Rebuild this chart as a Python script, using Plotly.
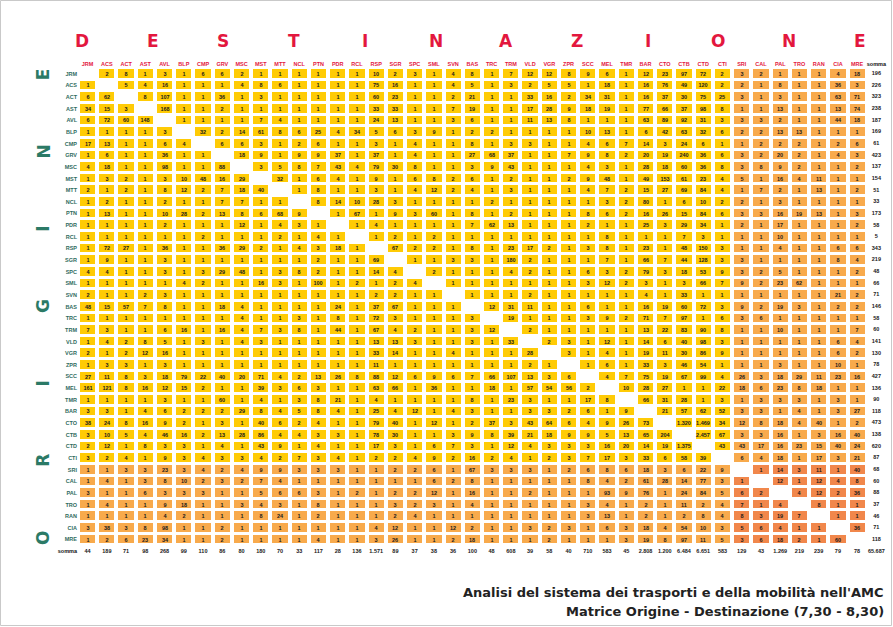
import plotly.graph_objects as go

# Zone codes (origins and destinations share the same list)
destinazioni = ["JRM", "ACS", "ACT", "AST", "AVL", "BLP", "CMP", "GRV", "MSC", "MST",
                "MTT", "NCL", "PTN", "PDR", "RCL", "RSP", "SGR", "SPC", "SML", "SVN",
                "BAS", "TRC", "TRM", "VLD", "VGR", "ZPR", "SCC", "MEL", "TMR", "BAR",
                "CTO", "CTB", "CTD", "CTI", "SRI", "CAL", "PAL", "TRO", "RAN", "CIA", "MRE"]
origini = list(destinazioni)

# the first 34 zones form the inner area, the last 7 the outer ring
n_interne = 34

# trips origin (row) -> destination (column); None on the diagonal
spostamenti = [
    [None, 2, 8, 1, 3, 1, 6, 6, 2, 1, 1, 1, 1, 1, 1, 10, 2, 3, 1, 4, 8, 1, 7, 12, 12, 8, 9, 6, 1, 12, 23, 97, 72, 2, 3, 2, 1, 1, 1, 4, 18],
    [1, None, 5, 4, 16, 1, 1, 1, 4, 8, 6, 1, 1, 1, 1, 75, 16, 1, 1, 4, 5, 1, 3, 2, 5, 5, 1, 18, 1, 16, 76, 49, 120, 2, 2, 1, 8, 1, 1, 36, 3],
    [6, 62, None, 8, 107, 1, 1, 36, 1, 3, 1, 1, 1, 1, 1, 60, 23, 1, 1, 2, 21, 1, 1, 33, 16, 2, 34, 31, 1, 16, 37, 30, 75, 25, 3, 1, 3, 1, 1, 63, 71],
    [34, 15, 3, None, 168, 1, 1, 2, 1, 1, 1, 1, 1, 1, 1, 33, 33, 1, 1, 7, 19, 1, 1, 17, 28, 9, 18, 19, 1, 77, 66, 37, 98, 8, 1, 1, 13, 1, 1, 13, 74],
    [6, 72, 60, 148, None, 1, 1, 1, 1, 7, 4, 1, 1, 1, 1, 24, 13, 1, 1, 3, 6, 1, 1, 11, 13, 8, 1, 1, 1, 63, 89, 92, 31, 3, 3, 3, 2, 1, 1, 44, 18],
    [1, 1, 1, 1, 3, None, 32, 2, 14, 61, 8, 6, 25, 4, 34, 5, 6, 3, 9, 1, 2, 2, 1, 1, 1, 1, 10, 13, 1, 6, 42, 63, 32, 6, 2, 2, 13, 13, 1, 1, 1],
    [17, 13, 1, 1, 6, 4, None, 6, 6, 3, 1, 2, 6, 1, 1, 3, 1, 4, 1, 1, 8, 1, 3, 3, 1, 1, 4, 6, 7, 14, 3, 24, 6, 1, 1, 2, 2, 2, 1, 2, 6],
    [1, 6, 1, 1, 36, 1, 1, None, 18, 9, 1, 9, 9, 37, 1, 37, 1, 4, 1, 1, 27, 68, 37, 1, 1, 7, 9, 8, 2, 20, 19, 240, 36, 6, 3, 2, 20, 2, 1, 4, 3],
    [4, 18, 1, 1, 98, 1, 1, 88, None, 3, 5, 8, 7, 43, 4, 79, 30, 8, 1, 1, 3, 9, 43, 1, 1, 1, 4, 3, 1, 28, 18, 60, 36, 8, 3, 8, 9, 2, 1, 1, 2],
    [1, 3, 2, 1, 3, 10, 48, 16, 29, None, 32, 1, 6, 4, 1, 9, 1, 6, 8, 2, 6, 1, 2, 1, 1, 2, 9, 48, 1, 49, 153, 61, 23, 4, 5, 1, 16, 4, 11, 1, 1],
    [2, 1, 2, 1, 8, 12, 2, 7, 18, 40, None, 1, 8, 1, 1, 3, 1, 4, 12, 2, 4, 1, 3, 1, 1, 1, 4, 7, 2, 15, 27, 69, 84, 4, 1, 7, 2, 1, 13, 1, 2],
    [1, 2, 1, 1, 2, 1, 1, 7, 7, 1, 1, None, 8, 14, 10, 28, 3, 1, 1, 1, 1, 2, 1, 1, 1, 1, 1, 3, 2, 80, 1, 6, 10, 2, 2, 1, 3, 1, 1, 1, 1],
    [1, 13, 1, 1, 10, 28, 2, 13, 8, 6, 68, 9, None, 1, 67, 1, 9, 3, 60, 1, 8, 1, 2, 1, 1, 1, 8, 6, 2, 16, 26, 15, 84, 6, 3, 3, 16, 19, 13, 1, 3],
    [1, 1, 1, 1, 2, 1, 1, 1, 12, 1, 4, 3, 1, None, 1, 4, 1, 1, 1, 1, 7, 62, 13, 1, 1, 1, 2, 1, 1, 25, 3, 29, 34, 1, 2, 1, 17, 1, 1, 1, 2],
    [1, 1, 1, 1, 1, 1, 2, 1, 1, 1, 2, 1, 4, 1, None, 1, 2, 1, 2, 1, 1, 1, 1, 1, 1, 1, 1, 8, 1, 1, 1, 7, 3, 1, 1, 1, 10, 1, 1, 1, 1],
    [1, 72, 27, 1, 36, 1, 1, 36, 29, 2, 1, 4, 3, 18, 1, None, 67, 2, 2, 1, 8, 1, 23, 17, 2, 1, 3, 8, 1, 23, 1, 48, 150, 3, 1, 1, 4, 1, 1, 6, 6],
    [1, 9, 1, 1, 3, 1, 1, 1, 1, 1, 1, 1, 2, 1, 1, 69, None, 1, 1, 3, 3, 1, 180, 2, 1, 1, 1, 7, 1, 66, 7, 44, 128, 3, 3, 1, 1, 1, 1, 8, 4],
    [4, 4, 1, 1, 3, 1, 3, 29, 48, 1, 3, 8, 2, 1, 1, 14, 4, None, 2, 1, 1, 1, 4, 2, 1, 1, 6, 3, 2, 79, 3, 18, 53, 9, 3, 2, 5, 1, 1, 1, 2],
    [1, 1, 1, 1, 1, 4, 2, 1, 1, 16, 3, 1, 100, 1, 2, 1, 2, 4, None, 1, 1, 1, 1, 1, 1, 1, 3, 12, 2, 3, 1, 3, 66, 7, 9, 2, 23, 62, 1, 1, 1],
    [2, 1, 1, 2, 3, 1, 1, 1, 1, 1, 1, 1, 1, 1, 1, 2, 2, 1, 1, None, 1, 1, 1, 2, 1, 1, 1, 1, 1, 4, 1, 33, 1, 1, 1, 1, 1, 1, 1, 21, 2],
    [48, 15, 57, 7, 8, 1, 1, 18, 4, 1, 1, 1, 1, 24, 1, 37, 67, 1, 1, 1, None, 12, 31, 11, 1, 1, 6, 1, 1, 16, 19, 60, 72, 3, 9, 2, 19, 3, 1, 2, 2],
    [1, 1, 1, 1, 1, 1, 1, 1, 4, 1, 1, 3, 1, 8, 1, 72, 3, 1, 1, 1, 3, None, 19, 1, 1, 1, 3, 9, 2, 71, 7, 97, 1, 6, 3, 6, 1, 1, 1, 1, 1],
    [7, 3, 1, 1, 6, 16, 1, 16, 4, 7, 3, 8, 1, 44, 1, 67, 4, 2, 1, 1, 3, 12, None, 2, 1, 1, 1, 1, 1, 13, 22, 83, 90, 8, 1, 1, 10, 1, 1, 1, 7],
    [1, 4, 2, 8, 5, 1, 3, 1, 4, 3, 1, 1, 1, 1, 1, 13, 13, 3, 1, 1, 3, 1, 33, None, 2, 3, 1, 12, 1, 14, 6, 40, 98, 3, 1, 1, 1, 1, 1, 6, 4],
    [2, 1, 2, 12, 16, 1, 1, 1, 1, 1, 1, 1, 1, 1, 1, 33, 14, 1, 1, 4, 1, 1, 1, 28, None, 3, 1, 4, 1, 19, 11, 30, 86, 9, 1, 1, 1, 1, 1, 6, 2],
    [1, 3, 3, 1, 3, 1, 1, 1, 1, 1, 1, 1, 1, 1, 1, 11, 1, 1, 1, 1, 1, 1, 1, 2, 1, None, 1, 6, 1, 33, 3, 46, 54, 1, 1, 1, 3, 1, 1, 10, 1],
    [27, 11, 8, 3, 18, 79, 22, 40, 20, 71, 4, 2, 13, 26, 8, 88, 12, 6, 9, 6, 7, 66, 107, 13, 3, 6, None, 4, 7, 75, 19, 67, 99, 4, 26, 3, 18, 29, 11, 23, 16],
    [161, 121, 8, 16, 12, 15, 2, 1, 1, 39, 3, 6, 3, 1, 1, 63, 66, 1, 36, 1, 1, 18, 1, 57, 54, 56, 2, None, 10, 28, 27, 1, 1, 22, 18, 6, 23, 8, 18, 1, 1],
    [1, 1, 1, 1, 3, 1, 1, 60, 1, 4, 1, 3, 8, 21, 1, 4, 1, 1, 1, 1, 8, 1, 23, 3, 1, 1, 17, 8, None, 66, 31, 28, 1, 3, 1, 3, 3, 3, 1, 3, 1],
    [3, 3, 1, 4, 6, 2, 2, 2, 29, 8, 4, 5, 8, 4, 1, 25, 4, 12, 1, 4, 3, 1, 1, 3, 3, 2, 6, 1, 9, None, 21, 57, 62, 52, 3, 3, 1, 4, 1, 3, 27],
    [38, 24, 8, 16, 9, 2, 1, 3, 1, 40, 6, 2, 4, 1, 1, 79, 40, 1, 12, 1, 2, 37, 3, 43, 64, 6, 4, 9, 26, 73, None, 1320, 1469, 34, 12, 8, 18, 4, 40, 1, 2],
    [3, 10, 5, 4, 46, 16, 2, 13, 28, 86, 4, 4, 3, 3, 1, 78, 30, 1, 1, 3, 9, 8, 39, 21, 18, 9, 9, 5, 13, 65, 204, None, 2457, 67, 3, 3, 16, 1, 3, 16, 40],
    [2, 12, 1, 8, 3, 3, 1, 4, 1, 43, 9, 1, 4, 1, 1, 17, 3, 1, 6, 7, 3, 1, 12, 4, 3, 3, 3, 16, 20, 14, 19, 1375, None, 43, 43, 17, 16, 23, 15, 40, 24],
    [3, 2, 4, 1, 9, 3, 4, 3, 3, 4, 2, 7, 3, 4, 1, 2, 2, 4, 9, 2, 16, 2, 4, 1, 2, 3, 7, 17, 3, 33, 6, 58, 39, None, 6, 4, 18, 1, 17, 3, 21],
    [1, 1, 3, 3, 23, 3, 4, 2, 4, 9, 9, 3, 3, 3, 1, 1, 2, 2, 6, 1, 67, 3, 3, 3, 1, 2, 6, 8, 6, 18, 3, 6, 22, 9, None, 1, 14, 3, 11, 1, 40],
    [1, 4, 1, 3, 8, 10, 2, 3, 2, 7, 4, 1, 1, 1, 1, 1, 1, 1, 6, 2, 8, 1, 1, 1, 1, 1, 8, 4, 2, 61, 28, 14, 77, 3, 1, None, 12, 1, 12, 4, 8],
    [3, 1, 1, 6, 3, 3, 3, 1, 1, 5, 6, 6, 3, 1, 2, 1, 2, 2, 12, 1, 16, 1, 1, 2, 1, 1, 1, 93, 9, 76, 1, 24, 84, 5, 6, 2, None, 4, 12, 2, 36],
    [1, 4, 1, 1, 9, 18, 1, 1, 3, 4, 3, 1, 8, 1, 1, 1, 3, 2, 3, 1, 4, 1, 1, 1, 1, 1, 3, 4, 1, 2, 1, 11, 2, 4, 7, 1, 4, None, 8, 1, 1],
    [1, 1, 1, 1, 4, 2, 1, 1, 1, 8, 24, 1, 2, 1, 1, 1, 2, 4, 1, 1, 1, 1, 1, 1, 1, 1, 3, 13, 1, 2, 1, 2, 8, 4, 8, 3, 19, 7, None, 1, 1],
    [3, 38, 3, 8, 98, 1, 1, 2, 1, 1, 1, 1, 1, 1, 1, 4, 12, 1, 1, 12, 2, 1, 1, 3, 2, 3, 1, 6, 3, 18, 4, 54, 10, 3, 5, 6, 4, 1, 1, None, 36],
    [1, 2, 6, 23, 34, 1, 1, 2, 1, 1, 1, 1, 4, 1, 1, 3, 26, 1, 1, 2, 18, 1, 1, 1, 2, 1, 1, 1, 3, 19, 8, 97, 11, 5, 3, 6, 18, 2, 1, 60, None],
]

# totals as printed in the "somma" row and column
tot_origine = [196, 226, 323, 238, 187, 169, 61, 423, 137, 154, 51, 33, 173, 58, 5, 343,
               219, 48, 66, 71, 146, 58, 60, 141, 130, 78, 427, 136, 90, 118, 473, 138,
               620, 87, 68, 60, 88, 37, 46, 71, 118]
tot_destinazione = [44, 189, 71, 98, 268, 99, 110, 86, 80, 180, 70, 33, 117, 28, 136, 1571,
                    89, 37, 38, 36, 100, 48, 608, 39, 58, 40, 710, 583, 45, 2808, 1200, 6484,
                    6651, 583, 129, 43, 1269, 219, 239, 79, 78]
tot_generale = 65687

SOMMA = "somma"

# page geometry
W, H = 893, 627
ML, MR, MT, MB = 78, 7, 68, 70
PW, PH = W - ML - MR, H - MT - MB

GIALLO = "#FFCB05"
ARANCIO = "#F8AA4C"
CORALLO = "#F1874B"
ROSSO = "#E3173E"
VERDE = "#2B7A66"
VERDE_SCURO = "#2F6B5E"
FONT_CELLE = "Liberation Sans, Arial"


def fmt(v):
    return f"{v:,}".replace(",", ".")


def px_x(px):
    return (px - ML) / PW


def px_y(py):
    return (MT + PH - py) / PH


# colour class: 0 inner-inner, 1 mixed, 2 outer-outer; diagonal left empty
n = len(origini)
z, testo = [], []
for i in range(n):
    riga_z, riga_t = [], []
    for j in range(n):
        v = spostamenti[i][j]
        if v is None:
            riga_z.append(None)
            riga_t.append("")
        else:
            riga_z.append(int(i >= n_interne) + int(j >= n_interne))
            riga_t.append(f"<b>{fmt(v)}</b>")
    z.append(riga_z)
    testo.append(riga_t)

fig = go.Figure()

fig.add_trace(go.Heatmap(
    x=destinazioni, y=origini, z=z, text=testo,
    texttemplate="%{text}",
    textfont=dict(family=FONT_CELLE, size=5.5, color="#1a1a1a"),
    colorscale=[[0, GIALLO], [0.333, GIALLO], [0.334, ARANCIO], [0.666, ARANCIO],
                [0.667, CORALLO], [1, CORALLO]],
    zmin=0, zmax=2, showscale=False, xgap=4, ygap=3, hoverinfo="skip",
))

# row totals
fig.add_trace(go.Scatter(
    x=[SOMMA] * n, y=origini, mode="text",
    text=[f"<b>{fmt(v)}</b>" for v in tot_origine],
    textfont=dict(family=FONT_CELLE, size=5.5, color="#1a1a1a"),
    hoverinfo="skip", showlegend=False,
))
# column totals and grand total
fig.add_trace(go.Scatter(
    x=destinazioni + [SOMMA], y=[SOMMA] * (n + 1), mode="text",
    text=[f"<b>{fmt(v)}</b>" for v in tot_destinazione + [tot_generale]],
    textfont=dict(family=FONT_CELLE, size=5.5, color="#1a1a1a"),
    hoverinfo="skip", showlegend=False,
))

cat_x = destinazioni + [SOMMA]
cat_y = origini + [SOMMA]

fig.update_xaxes(
    type="category", categoryorder="array", categoryarray=cat_x,
    range=[-0.5, len(cat_x) - 0.5], side="top",
    tickmode="array", tickvals=cat_x, tickangle=0,
    ticktext=[f"<b>{c}</b>" for c in destinazioni] + [f"<b><span style='color:#111'>{SOMMA}</span></b>"],
    tickfont=dict(family=FONT_CELLE, size=5.5, color=ROSSO),
    showgrid=False, zeroline=False, showline=False, ticks="", ticklen=0,
)
fig.update_yaxes(
    type="category", categoryorder="array", categoryarray=cat_y,
    range=[len(cat_y) - 0.5, -0.5],
    tickmode="array", tickvals=cat_y,
    ticktext=[f"<b>{c}</b>" for c in origini] + [f"<b><span style='color:#111'>{SOMMA}</span></b>"],
    tickfont=dict(family=FONT_CELLE, size=5.5, color=VERDE_SCURO),
    showgrid=False, zeroline=False, showline=False, ticks="", ticklen=0,
)

annotazioni = []
# spaced title letters across the top
titolo_top = "DESTINAZIONE"
for k, ch in enumerate(titolo_top):
    annotazioni.append(dict(
        xref="paper", yref="paper", x=px_x(82 + k * 70.7), y=px_y(41),
        text=f"<b>{ch}</b>", showarrow=False, xanchor="center", yanchor="middle",
        font=dict(family="DejaVu Sans, Liberation Sans", size=17, color=ROSSO),
    ))
# vertical letters on the left, reading bottom to top
titolo_sx = "ORIGINE"
for k, ch in enumerate(titolo_sx):
    annotazioni.append(dict(
        xref="paper", yref="paper", x=px_x(43), y=px_y(538 - k * 77.3),
        text=f"<b>{ch}</b>", showarrow=False, xanchor="center", yanchor="middle",
        textangle=-90,
        font=dict(family="DejaVu Sans, Liberation Sans", size=17, color=VERDE),
    ))
# caption lines
for testo_r, py in [("Analisi del sistema dei trasporti e della mobilità nell'AMC", 592),
                    ("Matrice Origine - Destinazione (7,30 - 8,30)", 611)]:
    annotazioni.append(dict(
        xref="paper", yref="paper", x=px_x(886), y=px_y(py),
        text=f"<b>{testo_r}</b>", showarrow=False, xanchor="right", yanchor="middle",
        font=dict(family="DejaVu Sans, Liberation Sans", size=13, color="#222222"),
    ))

fig.update_layout(
    width=W, height=H,
    margin=dict(l=ML, r=MR, t=MT, b=MB),
    paper_bgcolor="white", plot_bgcolor="white",
    annotations=annotazioni,
    shapes=[dict(type="rect", xref="paper", yref="paper",
                 x0=px_x(0.5), x1=px_x(W - 1.5), y0=px_y(H - 1.5), y1=px_y(0.5),
                 line=dict(color="#C9C9C9", width=1), layer="below")],
    showlegend=False,
)

fig.write_html("out.html")
